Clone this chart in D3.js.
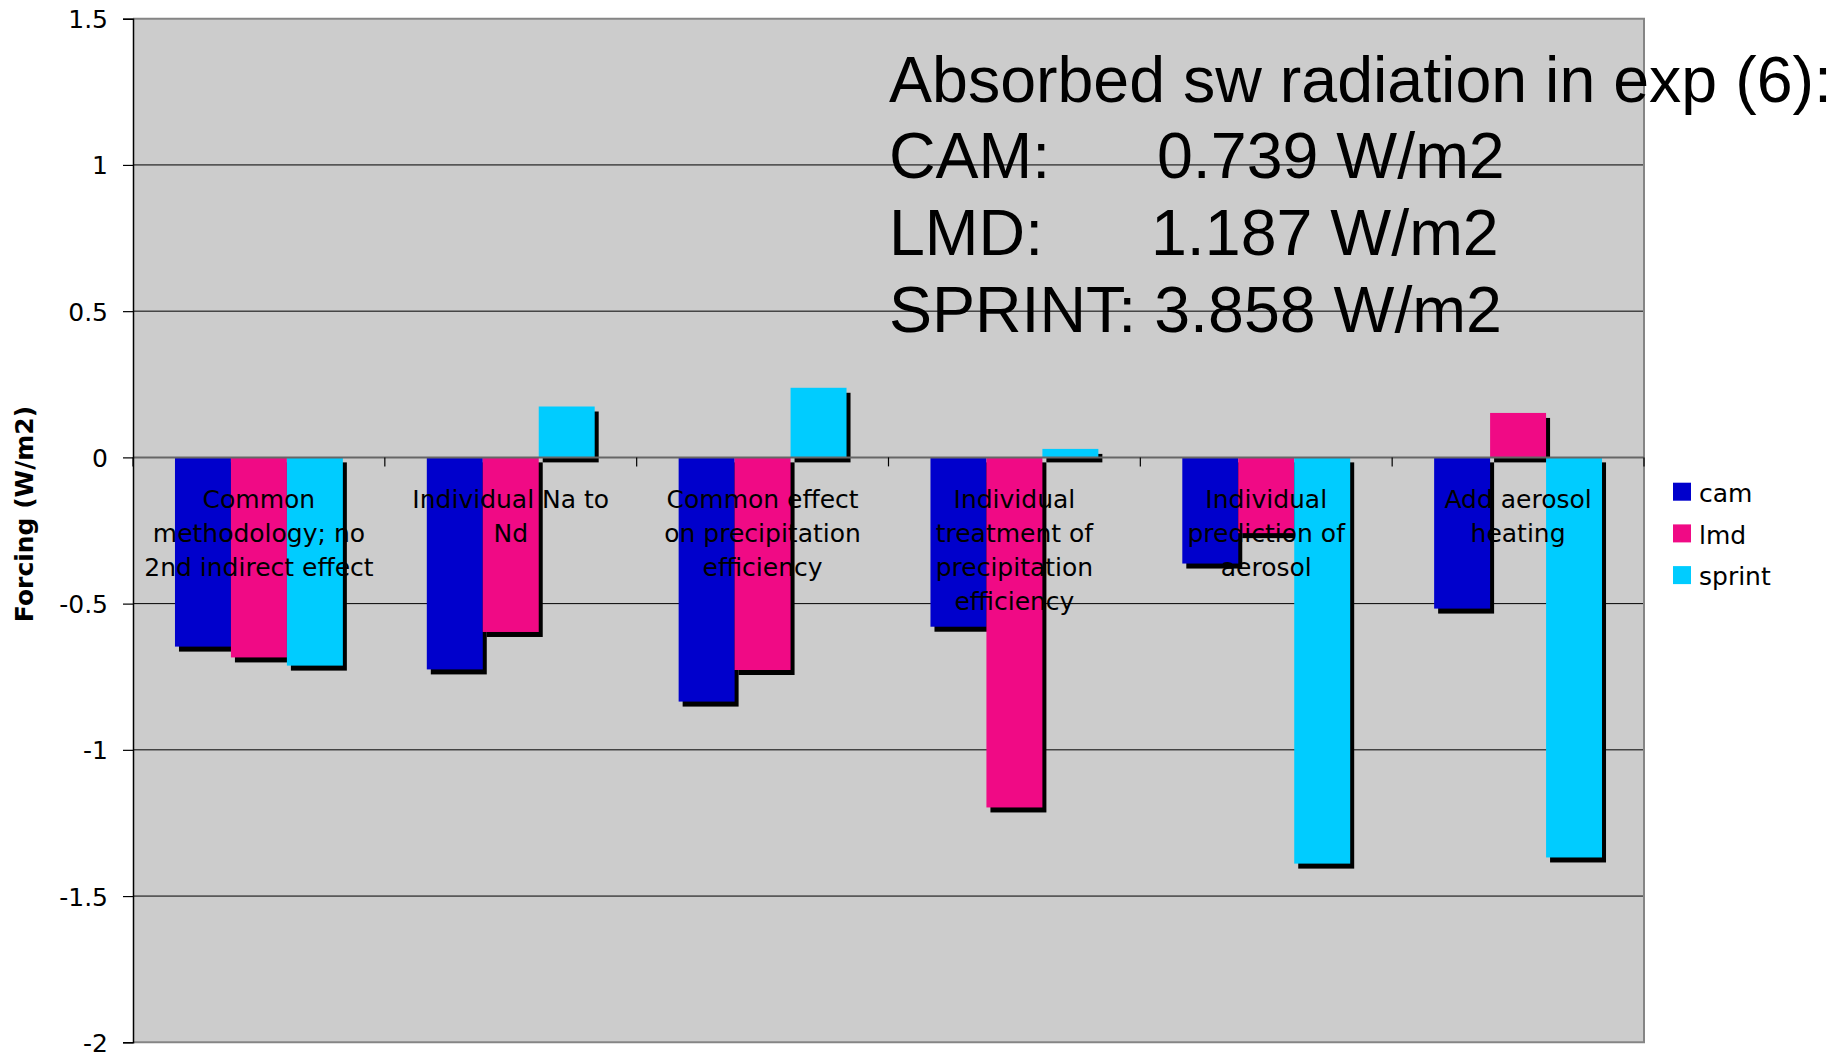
<!DOCTYPE html>
<html>
<head>
<meta charset="utf-8">
<script src="https://cdn.jsdelivr.net/npm/d3@7"></script>
<style>
  html, body { margin: 0; padding: 0; background: #ffffff; }
  svg { display: block; }
</style>
</head>
<body>
<svg id="chart" width="1841" height="1057"></svg>
<script>
// Forcing per experiment for each model (W/m2)
const categories = [
  "Common methodology; no 2nd indirect effect",
  "Individual Na to Nd",
  "Common effect on precipitation efficiency",
  "Individual treatment of precipitation efficiency",
  "Individual prediction of aerosol",
  "Add aerosol heating"
];
// Wrapped category label lines
const categoryLines = [
  ["Common", "methodology; no", "2nd indirect effect"],
  ["Individual Na to", "Nd"],
  ["Common effect", "on precipitation", "efficiency"],
  ["Individual", "treatment of", "precipitation", "efficiency"],
  ["Individual", "prediction of", "aerosol"],
  ["Add aerosol", "heating"]
];
const seriesNames = ["cam", "lmd", "sprint"];
const camValues    = [-0.647, -0.725, -0.835, -0.579, -0.363, -0.517];
const lmdValues    = [-0.684, -0.597, -0.727, -1.197, -0.259,  0.152];
const sprintValues = [-0.712,  0.174,  0.238,  0.029, -1.389, -1.368];
const yTicks = [1.5, 1, 0.5, 0, -0.5, -1, -1.5, -2];
const yTitle = "Forcing (W/m2)";
const noteLines = [
  { label: "Absorbed sw radiation in exp (6):", value: "" },
  { label: "CAM:", value: "0.739 W/m2" },
  { label: "LMD:", value: "1.187 W/m2" },
  { label: "SPRINT: 3.858 W/m2", value: "" }
];

const colors = { cam: "#0000CC", lmd: "#F00A85", sprint: "#00CCFF" };
const seriesValues = { cam: camValues, lmd: lmdValues, sprint: sprintValues };

const svg = d3.select("#chart");
const plot = { left: 133, right: 1644, top: 18.7, bottom: 1042.3 };

const y = d3.scaleLinear().domain([-2, 1.5]).range([plot.bottom, plot.top]);
const x0 = d3.scaleBand().domain(d3.range(categories.length))
  .range([plot.left, plot.right]).paddingInner(0).paddingOuter(0);
const bw = x0.bandwidth();
// gap width of 150% of a bar on the outer sides of each group
const x1 = d3.scaleBand().domain(seriesNames)
  .range([bw * 0.75 / 4.5, bw - bw * 0.75 / 4.5]).padding(0);

// plot area
svg.append("rect")
  .attr("x", plot.left).attr("y", plot.top)
  .attr("width", plot.right - plot.left).attr("height", plot.bottom - plot.top)
  .attr("fill", "#CCCCCC");

// gridlines
svg.append("g")
  .selectAll("line")
  .data(yTicks.filter(d => d !== 0 && d !== 1.5 && d !== -2))
  .join("line")
  .attr("x1", plot.left).attr("x2", plot.right)
  .attr("y1", d => y(d)).attr("y2", d => y(d))
  .attr("stroke", "#000").attr("stroke-width", 1);

// plot border
svg.append("path")
  .attr("d", `M${plot.left},${plot.top}H${plot.right}V${plot.bottom}H${plot.left}`)
  .attr("fill", "none").attr("stroke", "#858585").attr("stroke-width", 2);

// bars with drop shadows, one series at a time
seriesNames.forEach(s => {
  const g = svg.append("g");
  const vals = seriesValues[s];
  vals.forEach((v, i) => {
    const bx = x0(i) + x1(s);
    const top = y(Math.max(0, v));
    const h = Math.abs(y(v) - y(0));
    g.append("rect")
      .attr("x", bx + 4).attr("y", top + 5)
      .attr("width", x1.bandwidth()).attr("height", h)
      .attr("fill", "#000");
    g.append("rect")
      .attr("x", bx).attr("y", top)
      .attr("width", x1.bandwidth()).attr("height", h)
      .attr("fill", colors[s]);
  });
});

// category axis at zero
svg.append("line")
  .attr("x1", plot.left).attr("x2", plot.right)
  .attr("y1", y(0)).attr("y2", y(0))
  .attr("stroke", "#666").attr("stroke-width", 2);
svg.append("g")
  .selectAll("line")
  .data(d3.range(categories.length + 1))
  .join("line")
  .attr("x1", i => plot.left + i * bw).attr("x2", i => plot.left + i * bw)
  .attr("y1", y(0)).attr("y2", y(0) + 9)
  .attr("stroke", "#000").attr("stroke-width", 1.2);

// value axis
const yAxis = d3.axisLeft(y).tickValues(yTicks).tickSize(10).tickPadding(15)
  .tickFormat(d => String(d));
const ya = svg.append("g").attr("transform", `translate(${plot.left},0)`).call(yAxis);
ya.select(".domain").attr("stroke", "#000").attr("stroke-width", 1.5);
ya.selectAll(".tick line").attr("stroke", "#000").attr("stroke-width", 1.2);
ya.selectAll(".tick text")
  .attr("font-family", "'DejaVu Sans', Verdana, sans-serif")
  .attr("font-size", 25).attr("fill", "#000").attr("dy", "0.36em");

// category labels
const labels = svg.append("g")
  .attr("font-family", "'DejaVu Sans', Verdana, sans-serif")
  .attr("font-size", 25).attr("fill", "#000").attr("text-anchor", "middle");
categoryLines.forEach((lines, i) => {
  const t = labels.append("text")
    .attr("x", x0(i) + bw / 2).attr("y", y(0) + 50.5);
  lines.forEach((ln, k) => {
    t.append("tspan").attr("x", x0(i) + bw / 2).attr("dy", k === 0 ? 0 : 34.2).text(ln);
  });
});

// axis title
svg.append("text")
  .attr("transform", "translate(33,514) rotate(-90)")
  .attr("text-anchor", "middle")
  .attr("font-family", "'DejaVu Sans', Verdana, sans-serif")
  .attr("font-weight", "bold").attr("font-size", 25).attr("fill", "#000")
  .text(yTitle);

// legend
const legend = svg.append("g")
  .attr("font-family", "'DejaVu Sans', Verdana, sans-serif")
  .attr("font-size", 25).attr("fill", "#000");
seriesNames.forEach((s, i) => {
  const ly = 482.7 + i * 41.7;
  legend.append("rect").attr("x", 1673).attr("y", ly).attr("width", 18).attr("height", 18)
    .attr("fill", colors[s]);
  legend.append("text").attr("x", 1699).attr("y", ly + 19.3).text(s);
});

// note on absorbed shortwave radiation
const note = svg.append("g")
  .attr("font-family", "'Liberation Sans', Arial, sans-serif")
  .attr("font-size", 64.5).attr("fill", "#000");
const noteBaselines = [101.7, 178, 255, 331.7];
const valueX = [0, 1157, 1151, 0];
noteLines.forEach((d, i) => {
  note.append("text").attr("x", 889).attr("y", noteBaselines[i]).text(d.label);
  if (d.value) note.append("text").attr("x", valueX[i]).attr("y", noteBaselines[i]).text(d.value);
});
</script>
</body>
</html>
